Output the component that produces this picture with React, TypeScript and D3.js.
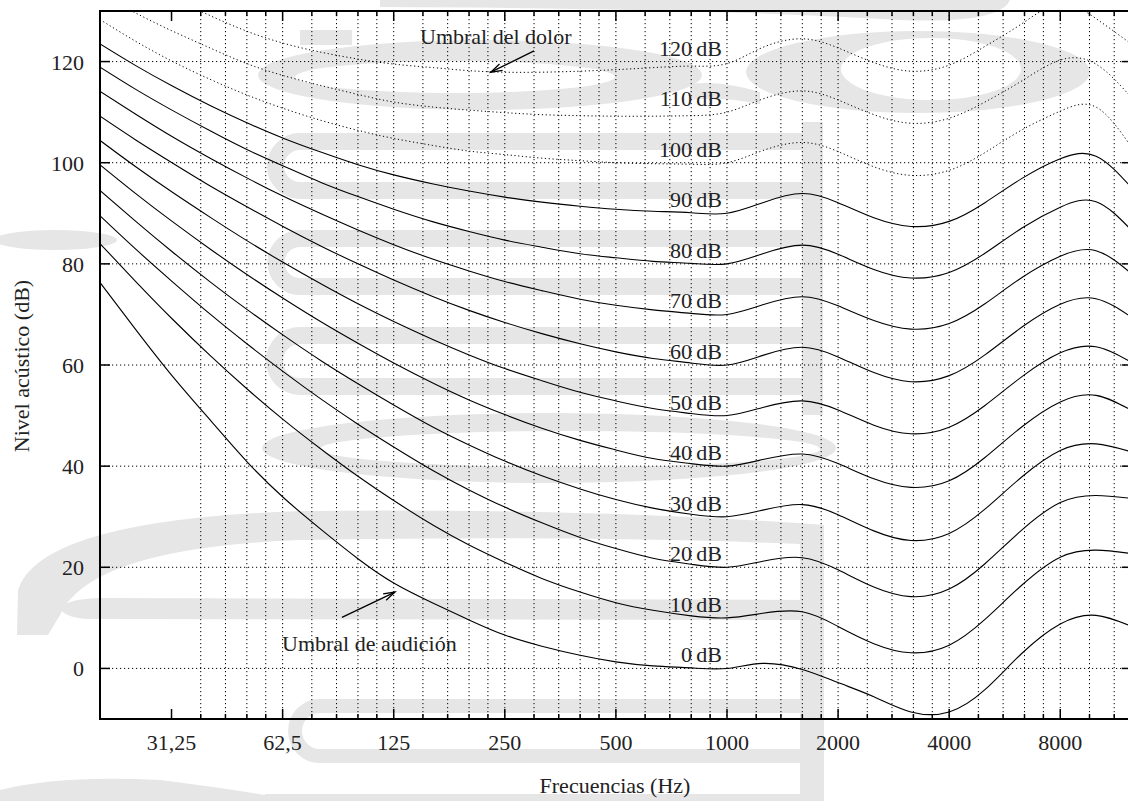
import React from 'react';
import * as d3 from 'd3';

// ---------- data ----------
const FREQS = [20, 25, 31.5, 40, 50, 63, 80, 100, 125, 160, 200, 250, 315, 400, 500, 630, 800, 1000, 1250, 1600, 2000, 2500, 3150, 4000, 5000, 6300, 8000, 10000, 12500];

const PHON_0 = [76.3, 67.0, 57.7, 48.9, 40.9, 33.7, 27.3, 21.7, 16.9, 12.9, 9.6, 6.6, 4.4, 2.6, 1.3, 0.5, 0.1, 0.0, 1.0, -0.2, -2.8, -5.6, -8.6, -8.6, -4.2, 3.0, 8.8, 10.5, 8.3];
const PHON_10 = [84.0, 76.5, 69.0, 61.7, 55.3, 49.1, 43.2, 38.0, 33.2, 28.3, 24.4, 21.0, 17.8, 15.1, 13.0, 11.5, 10.4, 10.0, 10.9, 11.2, 8.3, 4.9, 3.1, 4.6, 9.7, 16.5, 22.0, 23.4, 22.7];
const PHON_20 = [89.5, 82.9, 76.4, 69.9, 64.2, 58.6, 53.1, 48.3, 43.8, 39.1, 35.3, 31.9, 28.8, 25.9, 23.7, 21.8, 20.6, 20.0, 21.2, 21.9, 19.5, 16.1, 14.2, 15.7, 20.7, 27.4, 32.8, 34.2, 33.6];
const PHON_30 = [94.5, 88.4, 82.3, 76.3, 71.0, 65.8, 60.7, 56.3, 52.1, 47.7, 44.2, 41.0, 38.1, 35.5, 33.4, 31.7, 30.5, 30.0, 31.3, 32.4, 30.4, 27.2, 25.3, 26.7, 31.5, 37.9, 43.1, 44.4, 42.8];
const PHON_40 = [99.6, 93.9, 88.3, 82.8, 77.9, 73.1, 68.4, 64.3, 60.4, 56.4, 53.1, 50.2, 47.5, 45.1, 43.2, 41.5, 40.5, 40.0, 41.3, 42.4, 40.5, 37.5, 35.8, 37.1, 41.7, 47.8, 52.7, 54.0, 51.0];
const PHON_50 = [104.4, 99.2, 94.1, 89.1, 84.6, 80.2, 75.9, 72.1, 68.6, 65.0, 62.0, 59.3, 56.9, 54.6, 52.9, 51.4, 50.4, 50.0, 51.6, 52.9, 51.1, 48.1, 46.4, 47.7, 52.0, 57.7, 62.4, 63.6, 60.5];
const PHON_60 = [109.2, 104.5, 99.9, 95.3, 91.3, 87.3, 83.4, 80.0, 76.8, 73.5, 70.8, 68.4, 66.2, 64.2, 62.6, 61.3, 60.4, 60.0, 61.9, 63.5, 61.6, 58.5, 56.7, 57.9, 62.0, 67.5, 72.0, 73.1, 69.4];
const PHON_70 = [114.1, 109.6, 105.1, 100.8, 97.0, 93.3, 89.8, 86.7, 83.8, 80.9, 78.6, 76.5, 74.7, 73.0, 71.8, 70.9, 70.2, 70.0, 71.9, 73.5, 71.7, 68.8, 67.1, 68.2, 72.1, 77.3, 81.5, 82.6, 78.0];
const PHON_80 = [118.9, 114.5, 110.3, 106.2, 102.6, 99.3, 96.0, 93.3, 90.8, 88.3, 86.4, 84.7, 83.3, 82.0, 81.2, 80.5, 80.1, 80.0, 82.0, 83.7, 81.9, 78.9, 77.2, 78.3, 82.1, 87.1, 91.2, 92.3, 86.6];
const PHON_90 = [123.5, 119.2, 115.1, 111.2, 107.9, 104.8, 102.0, 99.6, 97.6, 95.8, 94.4, 93.2, 92.2, 91.4, 90.8, 90.4, 90.1, 90.0, 92.1, 93.9, 92.1, 89.1, 87.4, 88.4, 92.1, 96.9, 100.8, 101.3, 95.0];
const PHON_100 = [128.3, 124.0, 120.0, 116.4, 113.4, 110.7, 108.3, 106.4, 104.8, 103.4, 102.3, 101.6, 100.9, 100.4, 100.0, 99.8, 99.7, 100.0, 102.4, 104.0, 102.2, 99.2, 97.5, 98.5, 102.0, 106.5, 110.2, 111.0, 103.0];
const PHON_110 = [133.5, 129.6, 126.0, 122.6, 119.6, 117.2, 115.2, 113.5, 112.0, 111.0, 110.4, 109.9, 109.5, 109.3, 109.2, 109.2, 109.3, 110.0, 112.6, 114.2, 112.4, 109.5, 107.8, 108.8, 112.0, 116.2, 120.3, 119.5, 112.8];
const PHON_120 = [140.0, 136.0, 132.5, 129.0, 126.0, 123.6, 121.8, 120.5, 119.5, 118.8, 118.2, 117.9, 117.9, 118.1, 118.4, 118.8, 119.1, 119.6, 122.8, 124.5, 122.7, 119.8, 118.1, 119.3, 123.0, 127.5, 131.4, 128.5, 123.4];

const LEVELS = [0, 10, 20, 30, 40, 50, 60, 70, 80, 90, 100, 110, 120];
const CURVES = [PHON_0, PHON_10, PHON_20, PHON_30, PHON_40, PHON_50, PHON_60, PHON_70, PHON_80, PHON_90, PHON_100, PHON_110, PHON_120];
const DOTTED_FROM = 100; // levels >= this are drawn dotted

const X_TICKS = [31.25, 62.5, 125, 250, 500, 1000, 2000, 4000, 8000];
const X_TICK_LABELS = ['31,25', '62,5', '125', '250', '500', '1000', '2000', '4000', '8000'];
const MINOR_STEPS = [1.2, 1.4, 1.6, 1.8];
const Y_TICKS = [0, 20, 40, 60, 80, 100, 120];

// annotations: tail / tip in (Hz, dB)
const PAIN_ARROW = { tail: [300, 122.1], tip: [229, 117.9] };
const HEARING_ARROW = { tail: [90.5, 10.1], tip: [126, 15.1] };

// ---------- layout ----------
const W = 1128;
const H = 801;
const PL = 100;
const PR = 1131.8;
const PT = 11;
const PB = 719;
const FONT = '"Liberation Serif", "Times New Roman", serif';

function Arrow({ x1, y1, x2, y2 }: { x1: number; y1: number; x2: number; y2: number }) {
  const a = Math.atan2(y2 - y1, x2 - x1);
  const len = 12;
  const spread = 0.3;
  const p1 = [x2 - len * Math.cos(a - spread), y2 - len * Math.sin(a - spread)];
  const p2 = [x2 - len * Math.cos(a + spread), y2 - len * Math.sin(a + spread)];
  return (
    <g stroke="#000" strokeWidth={1.3} fill="none">
      <line x1={x1} y1={y1} x2={x2} y2={y2} />
      <polyline points={`${p1[0]},${p1[1]} ${x2},${y2} ${p2[0]},${p2[1]}`} />
    </g>
  );
}

function Watermark() {
  const c = '#e6e6e6';
  return (
    <g fill={c} stroke="none">
      <path d="M380 0 L1010 0 Q1000 24 900 20 Q700 8 380 7 Z" />
      <path fillRule="evenodd" d="M258 75 A222 35 0 1 0 702 75 A222 35 0 1 0 258 75 Z M295 77 A160 16 0 1 0 615 77 A160 16 0 1 0 295 77 Z" />
      <path fillRule="evenodd" d="M746 72 A172 41 0 1 0 1090 72 A172 41 0 1 0 746 72 Z M841 69 A90 31 0 1 0 1021 69 A90 31 0 1 0 841 69 Z" />
      <path d="M690 84 Q720 80 760 92 L760 104 Q720 96 690 100 Z" />
      <rect x={300} y={30} width={52} height={15} />
      <g fill="none" stroke={c} strokeWidth={17}>
        <path d="M822 141.5 H300 A24.5 24.5 0 0 0 300 190.5 H822" />
        <path d="M822 238.5 H300 A24 24 0 0 0 300 286.5 H822" />
        <path d="M822 335.5 H300 A25 25 0 0 0 300 386.5 H822" />
        <path d="M822 706 H320 A25 25 0 0 0 320 756 H822" strokeWidth={14} />
      </g>
      <rect x={802} y={122} width={21} height={293} />
      <path fillRule="evenodd" d="M262 448 A287 35 0 1 0 836 448 A287 35 0 1 0 262 448 Z M320 449 A250 18 0 1 0 820 449 A250 18 0 1 0 320 449 Z" />
      <ellipse cx={55} cy={240} rx={62} ry={10} />
      <path d="M824 525 L824 545 Q600 535 300 540 Q90 548 60 615 L48 635 L17 635 L18 590 Q40 520 300 511 Q600 508 824 525 Z" />
      <path d="M60 608 Q70 597 110 598 L824 600 L824 620 L100 619 Q65 620 60 608 Z" />
      <rect x={800} y={525} width={24} height={276} />
      <path d="M0 801 L0 790 Q60 775 160 780 Q240 790 300 801 Z" />
      <rect x={265} y={794} width={559} height={7} />
    </g>
  );
}

export default function App() {
  const x = d3.scaleLog().base(2).domain([20, 12500]).range([PL, PR]);
  const y = d3.scaleLinear().domain([-10, 130]).range([PB, PT]);

  const line = d3
    .line<number>()
    .x((_, i) => x(FREQS[i]))
    .y((d) => y(d))
    .curve(d3.curveNatural);

  const minor: number[] = [];
  X_TICKS.forEach((m) => {
    MINOR_STEPS.forEach((s) => {
      const f = m * s;
      if (f < 12500) minor.push(f);
    });
  });
  const gridX = [...X_TICKS.slice(1), ...minor];

  const dotted = { stroke: '#000', strokeWidth: 1, strokeDasharray: '1.2,2.8', fill: 'none' } as const;

  return (
    <svg width={W} height={H} style={{ position: 'absolute', left: 0, top: 0, background: '#fff', fontFamily: FONT }}>
      <defs>
        <clipPath id="plotclip">
          <rect x={PL} y={PT} width={PR - PL} height={PB - PT} />
        </clipPath>
      </defs>
      <rect x={0} y={0} width={W} height={H} fill="#fff" />
      <Watermark />

      <g>
        {gridX.map((f, i) => (
          <line key={'gx' + i} x1={x(f)} x2={x(f)} y1={PT} y2={PB} {...dotted} />
        ))}
        {Y_TICKS.map((v) => (
          <line key={'gy' + v} x1={PL} x2={PR} y1={y(v)} y2={y(v)} {...dotted} />
        ))}
      </g>

      <g clipPath="url(#plotclip)" fill="none" stroke="#000">
        {CURVES.map((vals, i) => (
          <path
            key={'c' + i}
            d={line(vals) || ''}
            strokeWidth={LEVELS[i] >= DOTTED_FROM ? 1 : 1.1}
            strokeDasharray={LEVELS[i] >= DOTTED_FROM ? '1.2,2.6' : undefined}
          />
        ))}
      </g>

      <g stroke="#000" strokeWidth={1.5}>
        {X_TICKS.map((f) => (
          <g key={'xt' + f}>
            <line x1={x(f)} x2={x(f)} y1={PB} y2={PB - 10} />
            <line x1={x(f)} x2={x(f)} y1={PT} y2={PT + 10} />
          </g>
        ))}
        {minor.map((f, i) => (
          <g key={'xm' + i}>
            <line x1={x(f)} x2={x(f)} y1={PB} y2={PB - 5} />
            <line x1={x(f)} x2={x(f)} y1={PT} y2={PT + 5} />
          </g>
        ))}
        {Y_TICKS.map((v) => (
          <g key={'yt' + v}>
            <line x1={PL} x2={PL + 10} y1={y(v)} y2={y(v)} />
            <line x1={PR} x2={PR - 10} y1={y(v)} y2={y(v)} />
          </g>
        ))}
      </g>
      <rect x={PL} y={PT} width={PR - PL} height={PB - PT} fill="none" stroke="#000" strokeWidth={2} />

      <g fontSize={22} fill="#222" style={{ fontFamily: FONT }}>
        {X_TICKS.map((f, i) => (
          <text key={'xl' + f} x={x(f)} y={750} textAnchor="middle">
            {X_TICK_LABELS[i]}
          </text>
        ))}
        {Y_TICKS.map((v) => (
          <text key={'yl' + v} x={84} y={y(v) + 8} textAnchor="end">
            {v}
          </text>
        ))}
        {LEVELS.map((lv) => (
          <text key={'lv' + lv} x={722} y={y(lv) - 6} textAnchor="end">
            {`${lv}\u2009dB`}
          </text>
        ))}
        <text x={615} y={793} textAnchor="middle">
          Frecuencias (Hz)
        </text>
        <text transform="translate(29,366) rotate(-90)" textAnchor="middle">
          Nivel acústico (dB)
        </text>
        <text x={420} y={44}>
          Umbral del dolor
        </text>
        <text x={282} y={651}>
          Umbral de audición
        </text>
      </g>

      <Arrow x1={x(PAIN_ARROW.tail[0])} y1={y(PAIN_ARROW.tail[1])} x2={x(PAIN_ARROW.tip[0])} y2={y(PAIN_ARROW.tip[1])} />
      <Arrow
        x1={x(HEARING_ARROW.tail[0])}
        y1={y(HEARING_ARROW.tail[1])}
        x2={x(HEARING_ARROW.tip[0])}
        y2={y(HEARING_ARROW.tip[1])}
      />
    </svg>
  );
}
